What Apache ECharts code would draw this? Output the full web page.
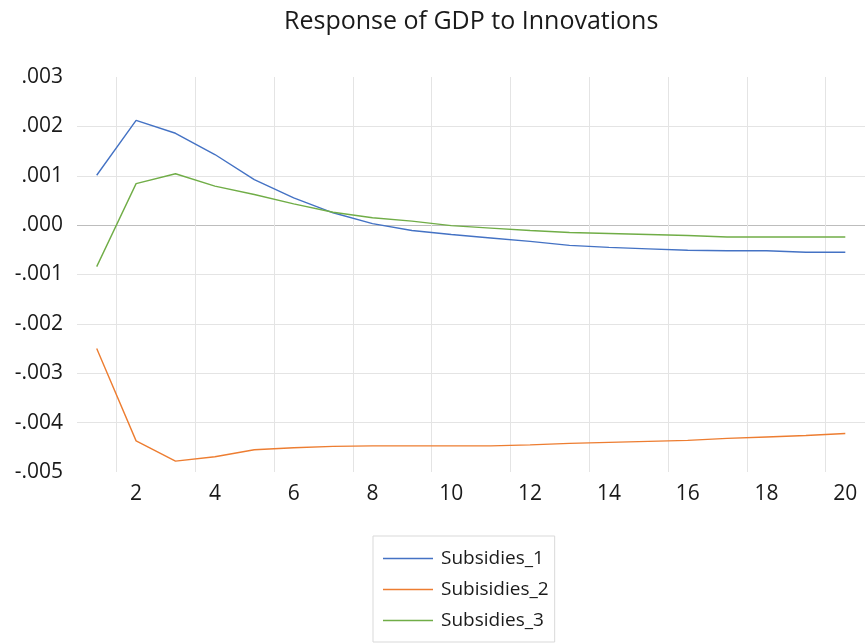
<!DOCTYPE html>
<html>
<head>
<meta charset="utf-8">
<script src="https://cdn.jsdelivr.net/npm/echarts@6/dist/echarts.min.js"></script>
<style>html,body{margin:0;padding:0;background:#fff}#c{width:865px;height:644px}</style>
</head>
<body>
<div id="c"></div>
<script>
var categories = ['1','2','3','4','5','6','7','8','9','10','11','12','13','14','15','16','17','18','19','20'];
var subsidies1 = [0.00101,0.00212,0.00186,0.00143,0.00092,0.00055,0.00025,0.00003,-0.00011,-0.00019,-0.00026,-0.00033,-0.00041,-0.00045,-0.00048,-0.00051,-0.00052,-0.00052,-0.00055,-0.00055];
var subsidies2 = [-0.00250,-0.00437,-0.00478,-0.00469,-0.00455,-0.00451,-0.00448,-0.00447,-0.00447,-0.00447,-0.00447,-0.00445,-0.00442,-0.00440,-0.00438,-0.00436,-0.00432,-0.00429,-0.00426,-0.00422];
var subsidies3 = [-0.00084,0.00084,0.00104,0.00079,0.00062,0.00043,0.00026,0.00015,0.00008,-0.00001,-0.00006,-0.00011,-0.00015,-0.00017,-0.00019,-0.00021,-0.00024,-0.00024,-0.00024,-0.00024];
var seriesNames = ['Subsidies_1','Subisidies_2','Subsidies_3'];
var yTicks = [-0.005,-0.004,-0.003,-0.002,-0.001,0,0.001,0.002,0.003];

var font = '"Open Sans", "Noto Sans", sans-serif';
function fmt(v){
  var r = Math.round(v*1000)/1000;
  if (Math.abs(r) < 1e-9) return '.000';
  var s = r.toFixed(3);
  return s.replace('0.', '.');
}
var chart = echarts.init(document.getElementById('c'), null, {renderer:'canvas'});
chart.setOption({
  animation:false,
  backgroundColor:'#fff',
  title:{text:'Response of GDP to Innovations', left:284, top:9, padding:0,
    textStyle:{fontFamily:font, fontSize:25, fontWeight:'normal', color:'#1a1a1a'}},
  grid:{left:77, right:0, top:77, height:395, containLabel:false},
  legend:{orient:'vertical', left:373, top:536, data:seriesNames,
    icon:'rect', padding:[13,6,12,10], itemWidth:50, itemHeight:1.5, itemGap:12,
    borderColor:'#d9d9d9', borderWidth:1,
    textStyle:{fontFamily:font, fontSize:19, color:'#1a1a1a', padding:[0,0,0,3]}},
  xAxis:{type:'category', data:categories, boundaryGap:true,
    axisLine:{show:false}, axisTick:{show:false},
    axisLabel:{interval:function(i){return i%2===1;}, margin:12, fontFamily:font, fontSize:21, color:'#1a1a1a'},
    splitLine:{show:true, interval:function(i){return i%2===1;}, lineStyle:{color:'#e4e4e4', width:1}}},
  yAxis:{type:'value', min:yTicks[0], max:yTicks[yTicks.length-1], interval:0.001,
    axisLine:{show:false}, axisTick:{show:false},
    axisLabel:{formatter:fmt, margin:14, fontFamily:font, fontSize:21, color:'#1a1a1a'},
    splitLine:{show:true, lineStyle:{width:1, color:['rgba(0,0,0,0)','#e4e4e4','#e4e4e4','#e4e4e4','#e4e4e4','#bdbdbd','#e4e4e4','#e4e4e4','rgba(0,0,0,0)']}}},
  series:[
    {name:seriesNames[0], type:'line', data:subsidies1, symbol:'none', lineStyle:{color:'#4472C4', width:1.4}, itemStyle:{color:'#4472C4'}},
    {name:seriesNames[1], type:'line', data:subsidies2, symbol:'none', lineStyle:{color:'#ED7D31', width:1.4}, itemStyle:{color:'#ED7D31'}},
    {name:seriesNames[2], type:'line', data:subsidies3, symbol:'none', lineStyle:{color:'#70AD47', width:1.4}, itemStyle:{color:'#70AD47'}}
  ]
});
</script>
</body>
</html>
